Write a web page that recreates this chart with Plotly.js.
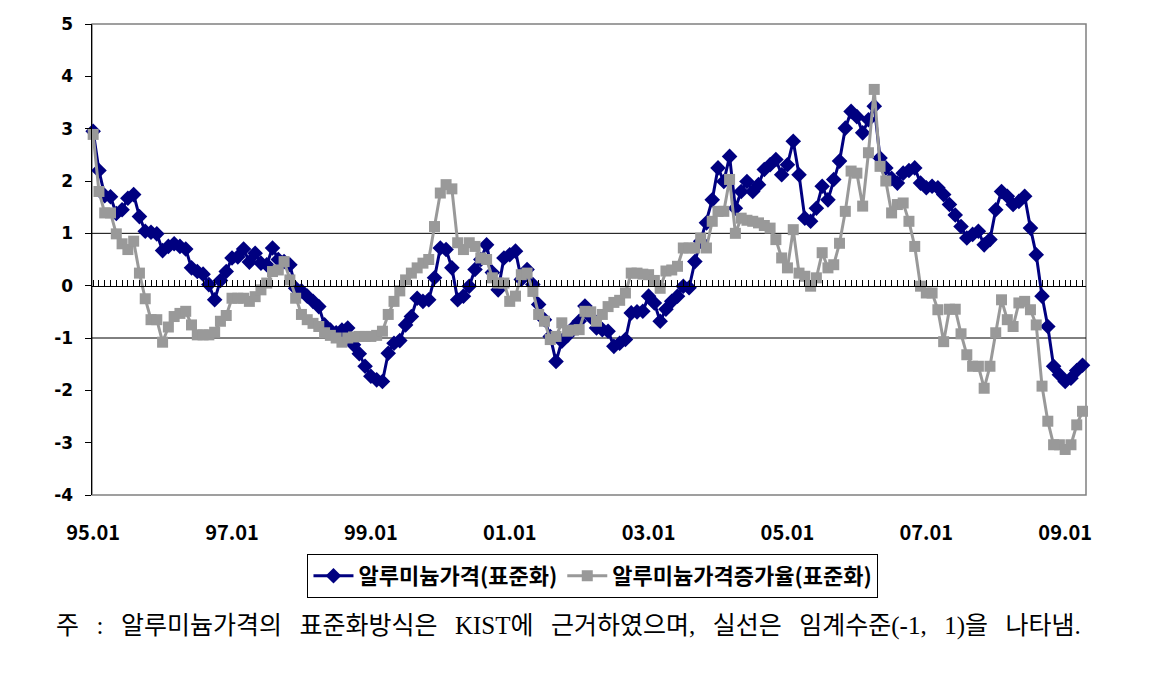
<!DOCTYPE html>
<html>
<head>
<meta charset="utf-8">
<script src="https://cdn.plot.ly/plotly-3.0.1.min.js"></script>
<style>
  html, body { margin: 0; padding: 0; background: #ffffff; }
  #chart { width: 1150px; height: 689px; }
</style>
</head>
<body>
<div id="chart"></div>
<script>
// Monthly categories 95.01 .. 09.04
const months = [];
for (let y = 1995; y <= 2009; y++) {
    for (let m = 1; m <= 12; m++) {
        if (y === 2009 && m > 4) break;
        months.push(String(y % 100).padStart(2, '0') + '.' + String(m).padStart(2, '0'));
    }
}

const tickLabels = ['95.01', '97.01', '99.01', '01.01', '03.01', '05.01', '07.01', '09.01'];
const yTickVals = [-4, -3, -2, -1, 0, 1, 2, 3, 4, 5];
const yTickText = ['-4', '-3', '-2', '-1', '0', '1', '2', '3', '4', '5'];

// 알루미늄가격(표준화)
const priceStd = [
    2.95, 2.20, 1.72, 1.70, 1.38, 1.45, 1.67, 1.74, 1.32, 1.04, 1.02, 0.99,
    0.67, 0.75, 0.80, 0.75, 0.70, 0.34, 0.27, 0.22, 0.02, -0.27, 0.10, 0.27,
    0.53, 0.55, 0.70, 0.45, 0.62, 0.43, 0.40, 0.72, 0.50, 0.46, 0.40, -0.05,
    -0.10, -0.20, -0.30, -0.40, -0.75, -0.85, -0.90, -0.85, -0.81, -1.13, -1.30, -1.54,
    -1.73, -1.80, -1.83, -1.29, -1.10, -1.05, -0.75, -0.59, -0.24, -0.30, -0.27, 0.15,
    0.72, 0.69, 0.34, -0.27, -0.20, -0.01, 0.31, 0.50, 0.78, 0.25, -0.08, 0.53,
    0.59, 0.66, 0.12, 0.31, 0.02, -0.36, -0.65, -0.97, -1.45, -1.06, -0.95, -0.80,
    -0.68, -0.39, -0.60, -0.81, -0.84, -0.87, -1.16, -1.10, -1.03, -0.52, -0.50, -0.49,
    -0.20, -0.33, -0.68, -0.45, -0.30, -0.20, -0.01, -0.04, 0.46, 0.85, 1.20, 1.64,
    2.25, 1.99, 2.47, 1.48, 1.80, 1.99, 1.80, 1.93, 2.22, 2.31, 2.41, 2.12,
    2.31, 2.76, 2.12, 1.29, 1.23, 1.48, 1.90, 1.64, 2.03, 2.38, 3.01, 3.33,
    3.23, 2.92, 3.17, 3.43, 2.44, 2.25, 2.05, 1.96, 2.15, 2.20, 2.25, 1.96,
    1.87, 1.90, 1.87, 1.74, 1.55, 1.35, 1.13, 0.91, 0.98, 1.04, 0.78, 0.88,
    1.45, 1.80, 1.71, 1.55, 1.61, 1.71, 1.10, 0.59, -0.20, -0.78, -1.54, -1.70,
    -1.83, -1.77, -1.62, -1.52
];

// 알루미늄가격증가율(표준화)
const growthStd = [
    2.89, 1.80, 1.39, 1.39, 0.99, 0.80, 0.69, 0.85, 0.24, -0.25, -0.65, -0.65,
    -1.08, -0.79, -0.59, -0.53, -0.49, -0.75, -0.94, -0.94, -0.94, -0.89, -0.68, -0.57,
    -0.24, -0.24, -0.24, -0.30, -0.21, -0.08, 0.05, 0.27, 0.30, 0.46, 0.11, -0.24,
    -0.55, -0.65, -0.72, -0.78, -0.90, -0.95, -1.00, -1.08, -1.00, -0.98, -0.97, -0.97,
    -0.97, -0.95, -0.87, -0.55, -0.30, -0.10, 0.11, 0.24, 0.34, 0.43, 0.50, 1.13,
    1.77, 1.93, 1.85, 0.82, 0.69, 0.82, 0.75, 0.53, 0.50, 0.15, 0.05, 0.05,
    -0.30, -0.20, 0.21, 0.24, -0.11, -0.55, -0.68, -1.03, -0.97, -0.71, -0.87, -0.85,
    -0.84, -0.49, -0.50, -0.68, -0.55, -0.40, -0.32, -0.28, -0.14, 0.24, 0.24, 0.22,
    0.21, 0.10, -0.05, 0.28, 0.30, 0.37, 0.72, 0.72, 0.72, 0.91, 0.72, 1.23,
    1.42, 1.42, 2.03, 1.00, 1.29, 1.25, 1.23, 1.20, 1.15, 1.10, 0.88, 0.53,
    0.34, 1.07, 0.24, 0.18, -0.01, 0.15, 0.63, 0.34, 0.40, 0.81, 1.42, 2.19,
    2.15, 1.52, 2.54, 3.75, 2.28, 2.00, 1.39, 1.55, 1.58, 1.23, 0.75, -0.01,
    -0.14, -0.14, -0.46, -1.07, -0.45, -0.45, -0.92, -1.32, -1.54, -1.54, -1.96, -1.54,
    -0.90, -0.27, -0.65, -0.78, -0.33, -0.30, -0.46, -0.75, -1.92, -2.59, -3.04, -3.04,
    -3.13, -3.04, -2.66, -2.40
];

// wide word gaps like the justified note in the source
const gap = '\u2002\u2009';
const noteText = ['주', ':', '알루미늄가격의', '표준화방식은', 'KIST에', '근거하였으며,',
    '실선은', '임계수준(-1,', '1)을', '나타냄.'].join(gap);

const xRange = [-0.2, 171.6];

const tracePrice = {
    x: months,
    y: priceStd,
    type: 'scatter',
    mode: 'lines+markers',
    name: '알루미늄가격(표준화)',
    line: { color: '#000080', width: 3 },
    marker: { symbol: 'diamond', size: 12, color: '#000080' },
    cliponaxis: false
};

const traceGrowth = {
    x: months,
    y: growthStd,
    type: 'scatter',
    mode: 'lines+markers',
    name: '알루미늄가격증가율(표준화)',
    line: { color: '#999999', width: 3 },
    marker: { symbol: 'square', size: 11, color: '#999999' },
    cliponaxis: false
};

// carries the category axis drawn through zero
const traceZeroAxis = {
    x: months,
    y: months.map(() => null),
    xaxis: 'x2',
    type: 'scatter',
    mode: 'lines',
    showlegend: false,
    hoverinfo: 'skip'
};

const layout = {
    width: 1150,
    height: 689,
    margin: { l: 92, r: 64, t: 24, b: 194 },
    paper_bgcolor: '#ffffff',
    plot_bgcolor: '#ffffff',
    showlegend: true,
    xaxis: {
        type: 'category',
        range: xRange,
        tickmode: 'array',
        tickvals: tickLabels,
        ticktext: tickLabels,
        ticks: '',
        ticklabelstandoff: 24,
        showgrid: false,
        zeroline: false,
        showline: false,
        tickfont: { family: 'Noto Sans CJK KR', size: 20, color: '#000000', weight: 'bold' }
    },
    xaxis2: {
        type: 'category',
        overlaying: 'x',
        anchor: 'free',
        position: 4 / 9,
        range: xRange,
        tickmode: 'linear',
        tick0: 0,
        dtick: 1,
        ticks: 'inside',
        ticklen: 6,
        tickwidth: 1,
        tickcolor: '#000000',
        showticklabels: false,
        showgrid: false,
        zeroline: false,
        showline: true,
        linecolor: '#000000',
        linewidth: 1
    },
    yaxis: {
        range: [-4, 5],
        tickmode: 'array',
        tickvals: yTickVals,
        ticktext: yTickText,
        ticks: 'outside',
        ticklen: 6,
        tickcolor: '#000000',
        showline: true,
        linecolor: '#000000',
        linewidth: 1.5,
        showgrid: false,
        zeroline: false,
        ticklabelstandoff: 8,
        tickfont: { family: 'DejaVu Sans', size: 17, color: '#000000', weight: 'bold' }
    },
    shapes: [
        { type: 'rect', xref: 'paper', yref: 'paper', x0: 0, x1: 1, y0: 0, y1: 1,
          line: { color: '#808080', width: 1.5 }, layer: 'below' },
        { type: 'line', xref: 'paper', yref: 'y', x0: 0, x1: 1, y0: 1, y1: 1,
          line: { color: '#000000', width: 1 }, layer: 'below' },
        { type: 'line', xref: 'paper', yref: 'y', x0: 0, x1: 1, y0: -1, y1: -1,
          line: { color: '#000000', width: 1 }, layer: 'below' }
    ],
    legend: {
        orientation: 'h',
        x: 0.504,
        xanchor: 'center',
        y: -0.172,
        yanchor: 'middle',
        bordercolor: '#000000',
        borderwidth: 1,
        bgcolor: '#ffffff',
        font: { family: 'Noto Sans CJK KR', size: 22, color: '#000000', weight: 'bold' },
        itemwidth: 40,
        tracegroupgap: 0
    },
    annotations: [
        {
            xref: 'paper', yref: 'paper',
            x: -0.038, y: -0.279,
            xanchor: 'left', yanchor: 'middle',
            showarrow: false,
            text: noteText,
            font: { family: 'Liberation Serif, Noto Sans CJK KR', size: 25, color: '#000000' }
        }
    ]
};

Plotly.newPlot('chart', [tracePrice, traceGrowth, traceZeroAxis], layout, { displayModeBar: false, staticPlot: true });
</script>
</body>
</html>
